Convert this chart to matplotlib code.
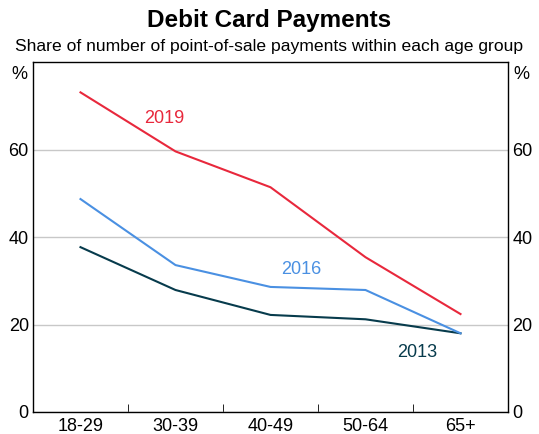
import numpy as np
import matplotlib.pyplot as plt

plt.rcParams['font.family'] = ['Liberation Sans', 'DejaVu Sans']

age_groups = ["18-29", "30-39", "40-49", "50-64", "65+"]
share_2019 = [73.1, 59.6, 51.4, 35.4, 22.4]
share_2016 = [48.7, 33.6, 28.6, 27.9, 18.0]
share_2013 = [37.7, 27.9, 22.2, 21.2, 18.0]

c2019 = "#E8283C"
c2016 = "#4A90E2"
c2013 = "#073B4C"

fig = plt.figure(figsize=(5.39, 4.34), dpi=100)
ax = fig.add_axes([0.0612, 0.0507, 0.8813, 0.806])

x = np.arange(len(age_groups))
ax.plot(x, share_2013, color=c2013, lw=1.5)
ax.plot(x, share_2016, color=c2016, lw=1.5)
ax.plot(x, share_2019, color=c2019, lw=1.5)

ax.text(0.88, 67.2, "2019", color=c2019, fontsize=13, ha="center", va="center")
ax.text(2.32, 32.7, "2016", color=c2016, fontsize=13, ha="center", va="center")
ax.text(3.54, 13.7, "2013", color=c2013, fontsize=13, ha="center", va="center")

ax.set_xlim(-0.5, 4.5)
ax.set_ylim(0, 80)
ax.set_yticks([0, 20, 40, 60])
ax.grid(axis="y", color="#c8c8c8", lw=1)
ax.set_axisbelow(True)
ax.tick_params(axis="y", length=0, labelsize=13, pad=3, labelright=True, right=False)

# category labels centred, tick marks on the boundaries
ax.set_xticks(x)
ax.set_xticklabels(age_groups, fontsize=13)
ax.tick_params(axis="x", which="major", length=0, pad=4)
ax.set_xticks(np.arange(0.5, 4.5, 1), minor=True)
ax.tick_params(axis="x", which="minor", direction="in", length=6, color="black")

for s in ax.spines.values():
    s.set_color("black")
    s.set_linewidth(1)

ax.text(-0.012, 0.965, "%", transform=ax.transAxes, ha="right", va="center", fontsize=13)
ax.text(1.012, 0.965, "%", transform=ax.transAxes, ha="left", va="center", fontsize=13)

fig.text(0.5, 0.953, "Debit Card Payments", ha="center", va="center",
         fontsize=17.5, fontweight="bold")
fig.text(0.5, 0.893, "Share of number of point-of-sale payments within each age group",
         ha="center", va="center", fontsize=12.6)

fig.savefig("out.png", dpi=100)
